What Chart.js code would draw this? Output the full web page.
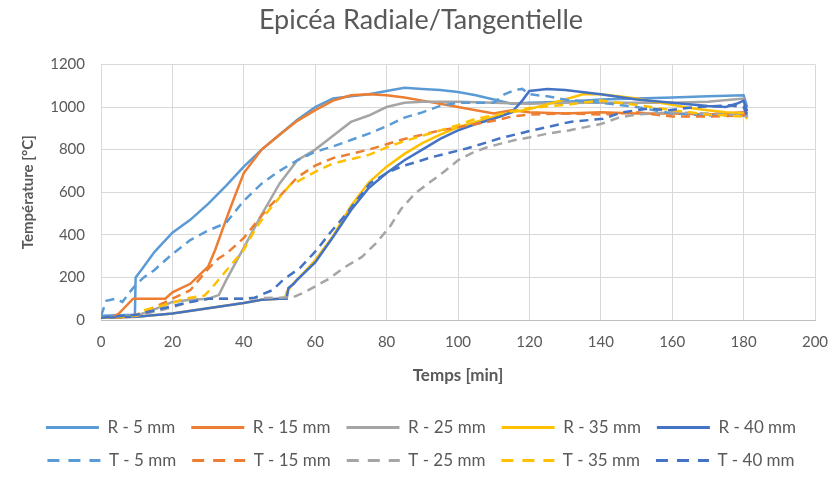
<!DOCTYPE html>
<html>
<head>
<meta charset="utf-8">
<script src="https://cdn.jsdelivr.net/npm/chart.js@4/dist/chart.umd.min.js"></script>
<style>
  html, body { margin: 0; padding: 0; background: #fff; }
  #wrap { width: 834px; height: 479px; }
</style>
</head>
<body>
<div id="wrap"><canvas id="c"></canvas></div>
<script>
// temps en minutes / températures en °C
const r5_t  = [0, 9.5, 9.7, 11.5, 15, 20, 25, 30, 35, 40, 45, 50, 55, 60, 65, 70, 75, 80, 85, 90, 95, 100, 105, 110, 115, 120, 130, 140, 150, 160, 170, 180, 181]
const r5_v  = [20, 25, 200, 240, 320, 410, 470, 545, 630, 720, 800, 870, 940, 1000, 1040, 1050, 1060, 1075, 1090, 1085, 1080, 1070, 1055, 1035, 1015, 1020, 1025, 1035, 1040, 1045, 1050, 1055, 1000]

const r15_t = [0, 3, 5, 9, 12, 18, 20, 25, 30, 32, 35, 37, 40, 45, 50, 55, 60, 65, 70, 75, 80, 85, 90, 95, 100, 105, 110, 115, 120, 130, 140, 150, 160, 170, 180, 181]
const r15_v = [10, 10, 30, 100, 100, 100, 130, 170, 250, 330, 470, 560, 690, 800, 870, 935, 985, 1030, 1055, 1060, 1055, 1045, 1030, 1015, 1000, 985, 970, 985, 975, 970, 975, 970, 970, 965, 975, 960]

const r25_t = [0, 9, 15, 20, 25, 30, 33, 35, 40, 45, 50, 55, 60, 65, 70, 75, 80, 85, 90, 100, 110, 120, 130, 140, 150, 160, 170, 180, 181]
const r25_v = [10, 15, 50, 85, 95, 100, 117, 185, 340, 495, 640, 750, 800, 865, 930, 960, 1000, 1020, 1025, 1025, 1020, 1015, 1020, 1020, 1020, 1020, 1025, 1040, 950]

const r35_t = [0, 10, 20, 30, 40, 45, 50, 51.5, 52, 54, 55, 60, 65, 70, 75, 80, 85, 90, 95, 100, 105, 110, 115, 120, 130, 135, 140, 145, 150, 155, 160, 165, 170, 175, 180, 181]
const r35_v = [10, 15, 30, 55, 80, 95, 100, 100, 130, 175, 190, 280, 395, 535, 645, 720, 780, 830, 870, 905, 930, 955, 975, 990, 1035, 1060, 1060, 1050, 1040, 1025, 1010, 995, 985, 975, 970, 945]

const r40_t = [0, 10, 20, 30, 40, 45, 50, 52, 52.5, 54, 55, 60, 65, 70, 75, 80, 85, 90, 95, 100, 105, 110, 115, 118, 120, 125, 130, 140, 150, 160, 170, 175, 178, 180, 181]
const r40_v = [10, 15, 30, 55, 80, 95, 100, 100, 150, 170, 190, 270, 390, 515, 620, 690, 750, 800, 850, 890, 920, 945, 975, 1030, 1075, 1085, 1080, 1060, 1035, 1020, 1005, 1000, 1015, 1030, 980]

const t5_t  = [0, 1.5, 4, 6, 8, 10, 12, 15, 20, 25, 30, 35, 40, 45, 50, 55, 60, 65, 70, 75, 80, 85, 90, 95, 100, 105, 110, 113, 116, 118, 120, 125, 130, 140, 150, 155, 160, 170, 180, 181]
const t5_v  = [20, 90, 100, 85, 130, 170, 200, 235, 310, 375, 420, 455, 560, 640, 700, 750, 790, 815, 845, 875, 910, 950, 975, 1005, 1020, 1020, 1020, 1060, 1080, 1085, 1060, 1050, 1035, 1020, 1000, 985, 970, 960, 960, 960]

const t15_t = [0, 5, 10, 15, 20, 25, 28, 30, 33, 35, 40, 45, 47, 50, 55, 60, 65, 70, 75, 80, 85, 90, 95, 100, 105, 110, 115, 120, 130, 140, 150, 160, 170, 180, 181]
const t15_v = [10, 12, 25, 60, 100, 140, 200, 240, 290, 310, 385, 490, 530, 580, 670, 725, 760, 780, 800, 825, 850, 870, 890, 905, 920, 935, 955, 965, 970, 965, 975, 955, 955, 960, 980]

const t25_t = [0, 10, 17, 20, 25, 30, 40, 50, 54, 57, 64, 68, 73, 77, 81, 84, 88, 92, 96, 100, 104, 108, 112, 116, 121, 125, 131, 140, 145, 150, 160, 170, 180, 181]
const t25_v = [10, 20, 47, 60, 85, 100, 100, 105, 108, 130, 195, 245, 295, 360, 440, 520, 595, 645, 695, 750, 785, 810, 828, 845, 860, 875, 890, 920, 950, 965, 975, 970, 960, 955]

const t35_t = [0, 10, 12, 20, 23.5, 29, 31, 35, 40, 43.5, 47, 53, 55, 61, 65, 70, 75, 80, 85, 90, 95, 100, 105, 110, 115, 120, 130, 140, 150, 160, 170, 180, 181]
const t35_v = [10, 20, 45, 80, 100, 115, 150, 230, 330, 435, 515, 635, 650, 705, 735, 755, 775, 810, 840, 865, 890, 915, 945, 960, 980, 995, 1010, 1030, 1010, 985, 965, 955, 940]

const t40_t = [0, 10, 15, 20, 25, 30, 40, 43, 48, 51, 55.7, 60.4, 64, 68.8, 75.3, 80, 84, 93, 102.4, 111.8, 121, 131.4, 140.6, 146, 153, 159, 166.6, 176, 180, 181]
const t40_v = [10, 25, 45, 65, 85, 100, 100, 105, 140, 188, 244, 328, 406, 500, 641, 690, 720, 766, 805, 853, 891, 930, 945, 975, 992, 985, 1000, 1008, 1000, 960]

const xTicks = [0, 20, 40, 60, 80, 100, 120, 140, 160, 180, 200]
const yTicks = [0, 200, 400, 600, 800, 1000, 1200]

const labels = ['R - 5 mm', 'R - 15 mm', 'R - 25 mm', 'R - 35 mm', 'R - 40 mm',
                'T - 5 mm', 'T - 15 mm', 'T - 25 mm', 'T - 35 mm', 'T - 40 mm']
const colors = ['#5B9BD5', '#ED7D31', '#A5A5A5', '#FFC000', '#4472C4']

const series = [
  [r5_t, r5_v], [r15_t, r15_v], [r25_t, r25_v], [r35_t, r35_v], [r40_t, r40_v],
  [t5_t, t5_v], [t15_t, t15_v], [t25_t, t25_v], [t35_t, t35_v], [t40_t, t40_v],
]

const FONT = 'Lato, "Open Sans", sans-serif'
const GREY = '#595959'
const PAD_LEFT = 27

const datasets = series.map(([t, v], i) => ({
  label: labels[i],
  data: t.map((x, k) => ({ x, y: v[k] })),
  borderColor: colors[i % 5],
  backgroundColor: colors[i % 5],
  borderWidth: 2.5,
  borderDash: i >= 5 ? [9, 6] : [],
  pointRadius: 0,
  tension: 0,
  fill: false,
  order: 10 - i,
}))

new Chart(document.getElementById('c'), {
  type: 'line',
  data: { datasets },
  options: {
    responsive: true, maintainAspectRatio: false, animation: false,
    layout: { padding: { left: PAD_LEFT, right: 19, top: 0, bottom: 0 } },
    plugins: {
      tooltip: { enabled: false },
      title: {
        display: true, text: 'Epicéa Radiale/Tangentielle', color: GREY,
        font: { family: FONT, size: 27, weight: 'normal' },
        padding: { top: 4, bottom: 28 },
      },
      legend: {
        position: 'bottom',
        labels: {
          color: GREY, font: { family: FONT, size: 17 },
          usePointStyle: true, pointStyleWidth: 53, padding: 16,
          sort: (a, b) => a.datasetIndex - b.datasetIndex,
          generateLabels: chart => {
            const items = Chart.defaults.plugins.legend.labels.generateLabels(chart)
            items.forEach(it => {
              it.pointStyle = 'line'
              it.lineWidth = 3
              it.lineDash = it.datasetIndex >= 5 ? [12, 9] : []
            })
            return items
          },
        },
      },
    },
    scales: {
      x: {
        type: 'linear', min: 0, max: 200,
        afterBuildTicks: s => { s.ticks = xTicks.map(v => ({ value: v })) },
        afterFit: s => { s.height = 83 },
        grid: { color: '#D9D9D9', drawTicks: true, tickLength: 13, tickColor: 'rgba(0,0,0,0)' },
        border: { color: '#BFBFBF' },
        ticks: { color: GREY, font: { family: FONT, size: 15 }, padding: 0, maxRotation: 0, callback: v => String(v) },
        title: { display: true, text: 'Temps [min]', color: GREY,
                 font: { family: FONT, size: 17, weight: 'bold' }, padding: { top: 0, bottom: 17 } },
      },
      y: {
        min: 0, max: 1200,
        afterBuildTicks: s => { s.ticks = yTicks.map(v => ({ value: v })) },
        afterFit: s => { s.width = 101 - PAD_LEFT },
        grid: { color: '#D9D9D9', drawTicks: false },
        border: { display: false },
        ticks: { color: GREY, font: { family: FONT, size: 15 }, padding: 16, callback: v => String(v) },
        title: { display: true, text: 'Température [°C]', color: GREY,
                 font: { family: FONT, size: 15, weight: 'bold' }, padding: { top: 28 - PAD_LEFT - 9, bottom: 0 } },
      },
    },
  },
})
</script>
</body>
</html>
